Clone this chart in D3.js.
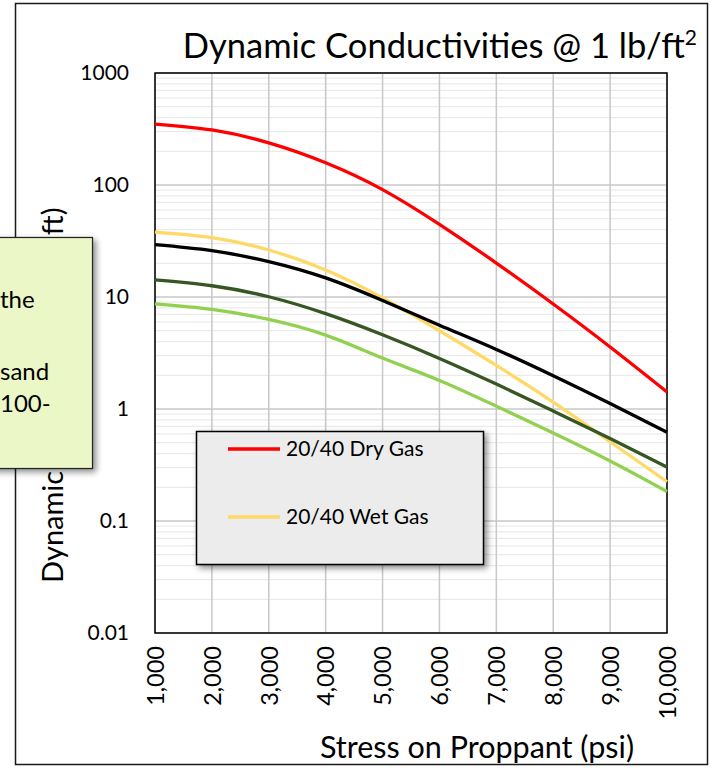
<!DOCTYPE html>
<html lang="en">
<head>
<meta charset="utf-8">
<title>Dynamic Conductivities</title>
<script src="https://cdnjs.cloudflare.com/ajax/libs/d3/7.8.5/d3.min.js"></script>
<style>
  body { margin: 0; background: #fff; }
  text { font-family: Lato, "Noto Sans", sans-serif; fill: #000; }
</style>
</head>
<body>
<script>
var w = 711, h = 769;

// stress on proppant (psi)
var stress = [1000, 2000, 3000, 4000, 5000, 6000, 7000, 8000, 9000, 10000];
// conductivities
var dryGas = [350, 310, 238, 158, 91, 44.5, 20.1, 8.66, 3.58, 1.42];
var wetGas = [38, 33.9, 26.3, 17.4, 9.8, 5.0, 2.45, 1.15, 0.51, 0.224];
var blackCurve = [29.3, 25.9, 20.7, 14.8, 9.3, 5.6, 3.4, 1.98, 1.12, 0.62];
var darkGreenCurve = [14.2, 12.6, 10.05, 7.1, 4.6, 2.83, 1.67, 0.96, 0.546, 0.303];
var lightGreenCurve = [8.7, 7.76, 6.31, 4.57, 2.85, 1.8, 1.06, 0.61, 0.343, 0.183];

var yTicks = [0.01, 0.1, 1, 10, 100, 1000];
var yTickLabels = ["0.01", "0.1", "1", "10", "100", "1000"];
var xTickLabels = ["1,000", "2,000", "3,000", "4,000", "5,000", "6,000", "7,000", "8,000", "9,000", "10,000"];
var legendNames = ["20/40 Dry Gas", "20/40 Wet Gas"];
var noteLines = ["the", "", "sand", "100-"];

var series = [
  { values: dryGas, color: "#ff0000" },
  { values: wetGas, color: "#ffd966" },
  { values: blackCurve, color: "#000000" },
  { values: darkGreenCurve, color: "#375623" },
  { values: lightGreenCurve, color: "#92d050" }
];

var svg = d3.select("body").append("svg")
  .attr("width", w)
  .attr("height", h);

var defs = svg.append("defs");
var f = defs.append("filter").attr("id", "shadow")
  .attr("x", "-10%").attr("y", "-10%").attr("width", "130%").attr("height", "130%");
f.append("feDropShadow").attr("dx", 3).attr("dy", 3).attr("stdDeviation", 3)
  .attr("flood-color", "#000").attr("flood-opacity", 0.45);

// chart frame
svg.append("rect")
  .attr("x", 15.5).attr("y", 3.5)
  .attr("width", 692).attr("height", 761)
  .attr("fill", "#fff").attr("stroke", "#1a1a1a").attr("stroke-width", 1.5);

var x = d3.scaleLinear().domain([1000, 10000]).range([155, 667]);
var y = d3.scaleLog().domain([0.01, 1000]).range([633, 73]);

// minor horizontal grid
var minor = [];
for (var d = 0.01; d < 1000; d *= 10) {
  for (var k = 2; k <= 9; k++) minor.push(d * k);
}
svg.append("g").selectAll("line")
  .data(minor).enter().append("line")
  .attr("x1", x(1000)).attr("x2", x(10000))
  .attr("y1", function(v) { return y(v); })
  .attr("y2", function(v) { return y(v); })
  .attr("stroke", "#ebebeb").attr("stroke-width", 1.2);

// major grid
svg.append("g").selectAll("line")
  .data(yTicks).enter().append("line")
  .attr("x1", x(1000)).attr("x2", x(10000))
  .attr("y1", function(v) { return y(v); })
  .attr("y2", function(v) { return y(v); })
  .attr("stroke", "#c8c8c8").attr("stroke-width", 1.5);
svg.append("g").selectAll("line")
  .data(stress).enter().append("line")
  .attr("x1", function(v) { return x(v); })
  .attr("x2", function(v) { return x(v); })
  .attr("y1", y(1000)).attr("y2", y(0.01))
  .attr("stroke", "#c8c8c8").attr("stroke-width", 1.5);

// plot border
svg.append("rect")
  .attr("x", x(1000)).attr("y", y(1000))
  .attr("width", x(10000) - x(1000)).attr("height", y(0.01) - y(1000))
  .attr("fill", "none").attr("stroke", "#000").attr("stroke-width", 1.5);

// axes
var yAxis = d3.axisLeft(y).tickValues(yTicks).tickSize(0).tickPadding(26)
  .tickFormat(function(v, i) { return yTickLabels[i]; });
var gy = svg.append("g").attr("transform", "translate(" + x(1000) + ",0)").call(yAxis);
gy.select(".domain").remove();
gy.selectAll("text").style("font-size", "21px").style("font-family", "Lato");

var xAxis = d3.axisBottom(x).tickValues(stress).tickSize(0)
  .tickFormat(function(v, i) { return xTickLabels[i]; });
var gx = svg.append("g").attr("transform", "translate(0," + y(0.01) + ")").call(xAxis);
gx.select(".domain").remove();
gx.selectAll("text")
  .attr("transform", "rotate(-90)")
  .attr("x", -13).attr("y", 0).attr("dy", "0.35em")
  .style("text-anchor", "end")
  .style("font-size", "23.5px").style("font-family", "Lato");

// curves
var line = d3.line()
  .x(function(v, i) { return x(stress[i]); })
  .y(function(v) { return y(v); })
  .curve(d3.curveNatural);

svg.append("g").selectAll("path")
  .data(series).enter().append("path")
  .attr("d", function(s) { return line(s.values); })
  .attr("fill", "none")
  .attr("stroke", function(s) { return s.color; })
  .attr("stroke-width", 3.3);

// title
var title = svg.append("text")
  .attr("x", 697).attr("y", 58)
  .attr("text-anchor", "end")
  .style("font-size", "34.5px");
title.append("tspan").text("Dynamic Conductivities @ 1 lb/ft");
title.append("tspan").text("2").attr("dy", -13).style("font-size", "21px");

// axis titles
svg.append("text")
  .attr("x", 477).attr("y", 758)
  .attr("text-anchor", "middle")
  .style("font-size", "30.5px")
  .text("Stress on Proppant (psi)");

svg.append("text")
  .attr("transform", "translate(63,583) rotate(-90)")
  .attr("text-anchor", "start")
  .style("font-size", "29px")
  .text("Dynamic Conductivity (md-ft)");

// legend
var leg = svg.append("g");
leg.append("rect")
  .attr("x", 196.5).attr("y", 431.5).attr("width", 287).attr("height", 133)
  .attr("fill", "#ececec").attr("stroke", "#000").attr("stroke-width", 1.5)
  .attr("filter", "url(#shadow)");
var items = leg.selectAll("g.item")
  .data(legendNames).enter().append("g")
  .attr("transform", function(d, i) { return "translate(0," + (449 + i * 68) + ")"; });
items.append("line")
  .attr("x1", 228).attr("x2", 280)
  .attr("stroke", function(d, i) { return series[i].color; })
  .attr("stroke-width", 3.3);
items.append("text")
  .attr("x", 286).attr("dy", "0.35em")
  .style("font-size", "21px")
  .text(function(d) { return d; });

// note box
var note = svg.append("g");
note.append("rect")
  .attr("x", -20).attr("y", 237.5).attr("width", 112.5).attr("height", 231)
  .attr("fill", "#ebf7c6").attr("stroke", "#222").attr("stroke-width", 1.2)
  .attr("filter", "url(#shadow)");
var noteY = [308, 344, 380, 412];
note.selectAll("text.note")
  .data(noteLines).enter().append("text")
  .attr("x", 0).attr("y", function(d, i) { return noteY[i]; })
  .style("font-size", "24px")
  .text(function(d) { return d; });
</script>
</body>
</html>
